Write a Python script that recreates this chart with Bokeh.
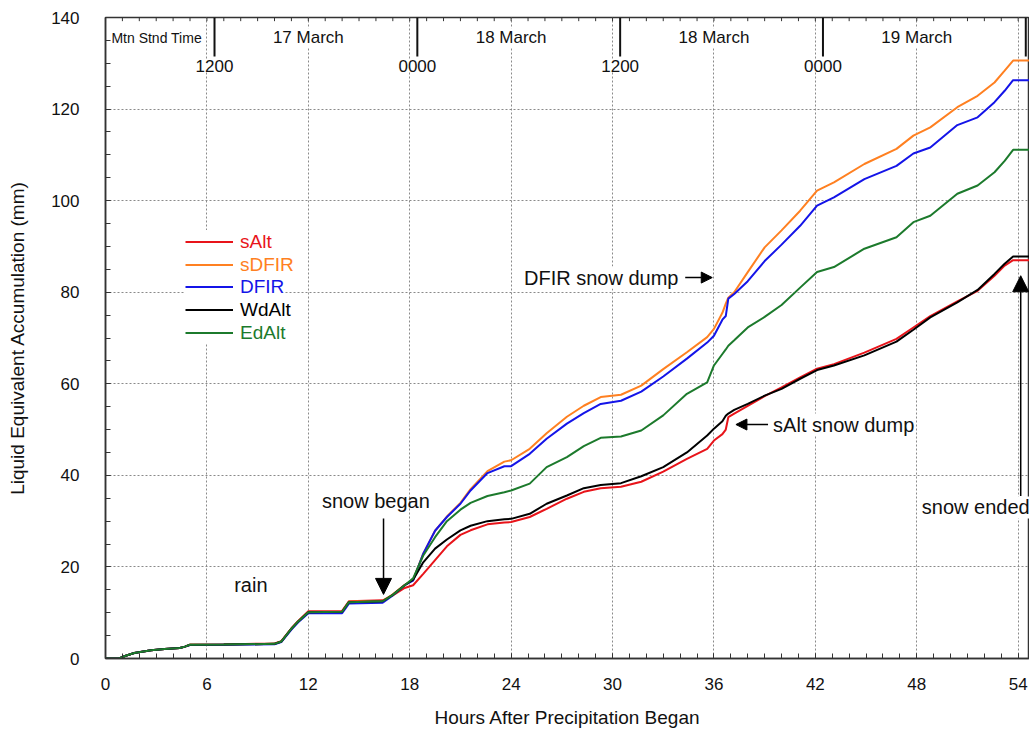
from bokeh.plotting import figure
from bokeh.models import (Label, Arrow, NormalHead, Legend, LegendItem,
                          SingleIntervalTicker, Range1d)
from bokeh.embed import file_html
from bokeh.resources import INLINE

# ---------------- data ----------------
hours = [0, 0.8, 1.2, 1.7, 2.7, 3.5, 4.4, 4.7, 5.0, 7.0,
         10.0, 10.4, 11.0, 11.4, 12.0, 14.0, 14.4, 16.4, 17.0, 17.7,
         18.2, 18.8, 19.5, 20.2, 21.0, 21.6, 22.6, 23.6, 24.0, 25.1,
         26.1, 27.3, 28.3, 29.3, 30.5, 31.7, 33.0, 34.4, 35.6, 36.0,
         36.5, 36.7, 36.85, 37.2, 38.0, 39.0, 40.0, 41.1, 42.1, 43.1,
         44.9, 46.8, 47.8, 48.8, 50.4, 51.6, 52.6, 53.2, 53.7, 54.7]

sAlt = [0, 0, 0.6, 1.2, 1.8, 2.1, 2.3, 2.6, 3.0, 3.05,
        3.3, 3.8, 6.6, 8.2, 10.3, 10.4, 12.5, 12.7, 13.8, 15.4,
        16.0, 18.5, 21.5, 24.5, 27.0, 28.0, 29.3, 29.7, 29.8, 30.9,
        32.7, 34.9, 36.4, 37.2, 37.5, 38.6, 40.8, 43.6, 45.8, 47.6,
        49.0, 50.0, 52.7, 53.5, 55.2, 57.3, 59.2, 61.4, 63.3, 64.3,
        66.8, 69.8, 72.3, 74.8, 78.0, 80.3, 83.6, 85.8, 87.0, 87.0]

sDFIR = [0, 0, 0.6, 1.2, 1.8, 2.1, 2.3, 2.6, 3.0, 3.05,
         3.2, 3.7, 6.5, 8.1, 10.1, 10.2, 12.4, 12.6, 14.0, 16.1,
         17.2, 22.9, 27.9, 31.0, 34.0, 37.0, 40.9, 43.0, 43.3, 45.8,
         49.2, 52.8, 55.2, 57.1, 57.6, 59.6, 63.2, 66.9, 70.2, 72.0,
         75.5, 77.5, 78.8, 80.0, 84.4, 89.8, 93.5, 97.8, 102.2, 104.0,
         108.0, 111.3, 114.2, 116.0, 120.4, 122.9, 125.8, 128.4, 130.6, 130.6]

DFIR = [0, 0, 0.6, 1.2, 1.8, 2.1, 2.3, 2.6, 2.95, 3.0,
        3.1, 3.6, 6.3, 7.9, 9.9, 9.9, 12.0, 12.2, 13.8, 16.0,
        17.0, 22.9, 27.9, 30.9, 33.8, 36.7, 40.5, 42.0, 42.0, 44.7,
        48.0, 51.3, 53.6, 55.6, 56.3, 58.3, 61.6, 65.5, 69.0, 70.5,
        74.0, 74.8, 78.6, 79.6, 82.4, 86.8, 90.4, 94.5, 98.9, 100.7,
        104.7, 107.6, 110.3, 111.6, 116.5, 118.2, 121.5, 124.0, 126.3, 126.3]

WdAlt = [0, 0, 0.6, 1.2, 1.8, 2.1, 2.3, 2.6, 3.0, 3.05,
         3.2, 3.7, 6.5, 8.1, 10.1, 10.2, 12.3, 12.5, 13.9, 16.0,
         17.2, 21.0, 24.0, 26.0, 28.0, 29.0, 30.0, 30.4, 30.5, 31.6,
         33.8, 35.6, 37.2, 37.9, 38.3, 39.8, 41.8, 45.0, 48.7, 50.2,
         51.8, 53.0, 53.5, 54.3, 55.6, 57.4, 58.9, 61.1, 63.0, 64.0,
         66.2, 69.2, 71.8, 74.5, 77.8, 80.5, 84.0, 86.2, 87.8, 87.8]

EdAlt = [0, 0, 0.6, 1.2, 1.8, 2.1, 2.3, 2.6, 3.0, 3.05,
         3.2, 3.7, 6.5, 8.1, 10.1, 10.2, 12.3, 12.5, 13.9, 16.0,
         17.5, 22.5, 26.5, 30.0, 32.5, 34.0, 35.5, 36.3, 36.7, 38.2,
         41.8, 44.0, 46.4, 48.2, 48.5, 49.8, 53.1, 57.8, 60.3, 64.0,
         66.5, 67.5, 68.3, 69.5, 72.3, 74.6, 77.2, 81.0, 84.4, 85.5,
         89.5, 92.0, 95.3, 96.7, 101.5, 103.3, 106.2, 108.7, 111.1, 111.1]

series_names = ["sAlt", "sDFIR", "DFIR", "WdAlt", "EdAlt"]
series_colors = ["#e8141a", "#ff8021", "#1414e8", "#000000", "#1c7a2c"]

# top (Mountain Standard Time) axis
date_ticks = [6.45, 18.45, 30.45, 42.45, 54.45]
time_labels = ["1200", "0000", "1200", "0000"]
day_label_pos = [12, 24, 36, 48]
day_labels = ["17 March", "18 March", "18 March", "19 March"]
hour_marks = list(range(1, 55))

FONT = "Liberation Sans"

p = figure(width=1029, height=730, output_backend="svg", toolbar_location=None,
           x_range=Range1d(0, 54.67), y_range=Range1d(0, 140),
           min_border_left=105, min_border_right=0, min_border_top=17,
           min_border_bottom=72, background_fill_color="white",
           border_fill_color="white")
p.outline_line_color = "#333333"
p.outline_line_width = 1.5

# axes
p.xaxis.ticker = SingleIntervalTicker(interval=6, num_minor_ticks=6)
p.yaxis.ticker = SingleIntervalTicker(interval=20, num_minor_ticks=4)
for ax in (p.xaxis[0], p.yaxis[0]):
    ax.axis_line_color = "#333333"
    ax.axis_line_width = 1.5
    ax.major_tick_in = 5
    ax.major_tick_out = 0
    ax.minor_tick_in = 5
    ax.minor_tick_out = 0
    ax.major_tick_line_color = "#333333"
    ax.minor_tick_line_color = "#333333"
    ax.major_label_text_font = FONT
    ax.major_label_text_font_size = "17px"
    ax.major_label_text_color = "#111111"
    ax.axis_label_text_font = FONT
    ax.axis_label_text_font_size = "19px"
    ax.axis_label_text_font_style = "normal"
    ax.axis_label_text_color = "#111111"
p.xaxis.axis_label = "Hours After Precipitation Began"
p.yaxis.axis_label = "Liquid Equivalent Accumulation (mm)"
p.xaxis.major_label_standoff = 19
p.xaxis.axis_label_standoff = 14
p.yaxis.major_label_standoff = 26
p.yaxis.axis_label_standoff = 20

p.grid.grid_line_color = "#8a8a8a"
p.grid.grid_line_dash = "2 2"
p.grid.grid_line_width = 1

# top-axis ticks
p.segment(x0=hour_marks, y0=[140] * len(hour_marks), x1=hour_marks,
          y1=[139.2] * len(hour_marks), line_color="#333333", line_width=1)
p.segment(x0=date_ticks, y0=[140] * len(date_ticks), x1=date_ticks,
          y1=[131.5] * len(date_ticks), line_color="#111111", line_width=2)

# series
data = [sAlt, sDFIR, DFIR, WdAlt, EdAlt]
renderers = []
for vals, col in zip(data, series_colors):
    r = p.line(hours, vals, line_color=col, line_width=2)
    renderers.append(r)

# legends (one per series so each label gets its own colour)
legend_y = [405, 382, 360, 337, 314]
for name, r, col, ly in zip(series_names, renderers, series_colors, legend_y):
    lg = Legend(items=[LegendItem(label=name, renderers=[r])], location=(80, ly),
                padding=0, margin=0, spacing=0, glyph_width=48, glyph_height=23,
                label_height=23, label_standoff=7, label_text_font=FONT,
                label_text_font_size="19px", label_text_color=col,
                border_line_color=None, background_fill_color="white",
                background_fill_alpha=1.0)
    p.add_layout(lg, "center")


def add_label(x, y, text, size="20px", align="center", baseline="middle", bg=True):
    lab = Label(x=x, y=y, text=text, text_font=FONT, text_font_size=size,
                text_align=align, text_baseline=baseline, text_color="#111111",
                background_fill_color="white" if bg else None,
                background_fill_alpha=1.0 if bg else 0.0)
    p.add_layout(lab)


# top-axis labels
add_label(0.35, 135.6, "Mtn Stnd Time", size="14px", align="left")
for xt, t in zip(date_ticks[:4], time_labels):
    add_label(xt, 129.5, t, size="17px")
for xd, d in zip(day_label_pos, day_labels):
    add_label(xd, 135.6, d, size="17px")

# annotations
add_label(8.6, 16.0, "rain", bg=False)
add_label(16.0, 34.5, "snow began", bg=False)
add_label(33.9, 83.2, "DFIR snow dump", align="right")
add_label(39.5, 51.1, "sAlt snow dump", align="left")
add_label(48.3, 33.0, "snow ended", align="left")


def add_arrow(x0, y0, x1, y1, size):
    p.add_layout(Arrow(end=NormalHead(size=size, fill_color="black", line_color="black"),
                       x_start=x0, y_start=y0, x_end=x1, y_end=y1,
                       line_color="black", line_width=1.5))


add_arrow(16.45, 30.6, 16.45, 14.0, 16)
add_arrow(34.3, 83.2, 35.9, 83.2, 11)
add_arrow(39.2, 51.1, 37.3, 51.1, 11)
add_arrow(54.15, 35.5, 54.15, 83.6, 16)

open("out.html", "w").write(file_html(p, INLINE))
